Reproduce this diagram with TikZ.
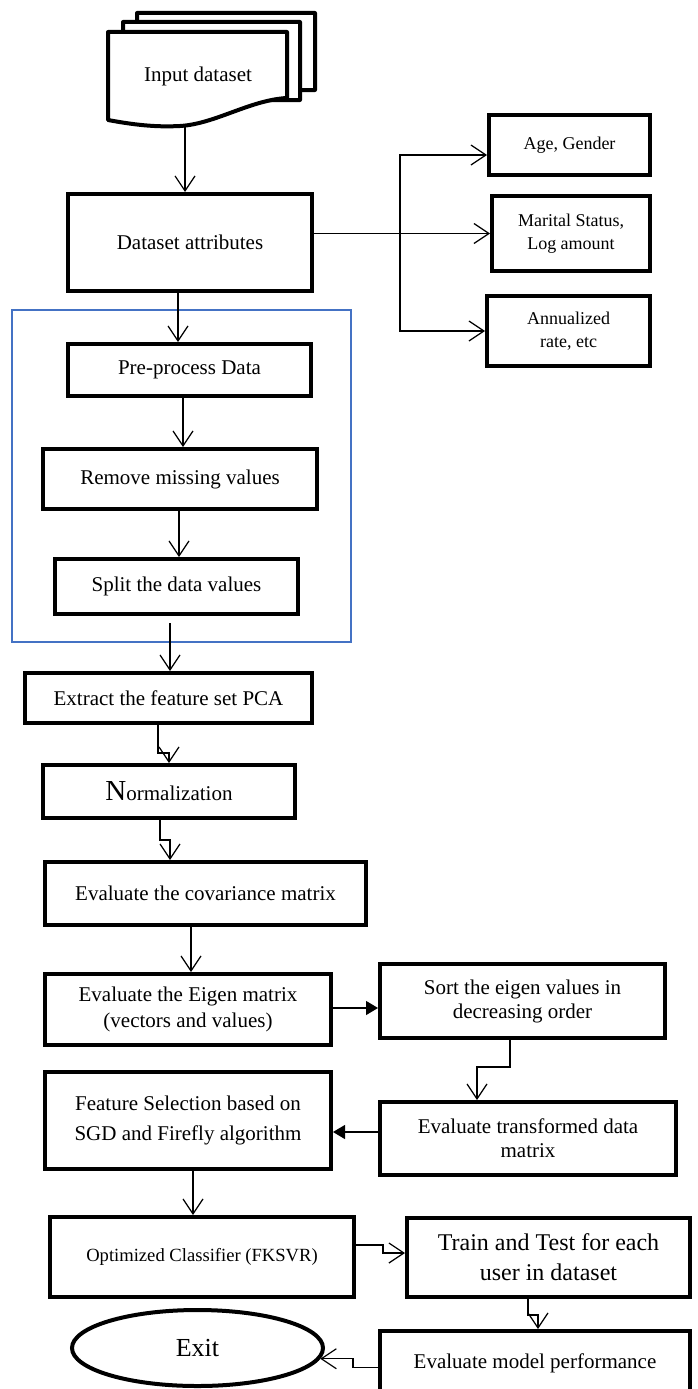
\documentclass[tikz,border=0pt]{standalone}
\usepackage{fontspec}
\setmainfont{Liberation Serif}
\usetikzlibrary{arrows.meta,shapes.geometric}
\definecolor{frameblue}{HTML}{4472C4}
\begin{document}
\begin{tikzpicture}[x=1pt,y=-1pt,
  box/.style={draw, line width=4pt, fill=white, align=center, inner sep=2pt,
    font=\fontsize{21}{26}\selectfont},
  sidebox/.style={box, font=\fontsize{18}{23}\selectfont},
  docline/.style={draw, line width=4pt, fill=white, line join=round},
  conn/.style={line width=1.2pt},
  arr/.style={conn, -{Straight Barb[length=15pt,width=20pt,line width=1.2pt]}},
  farr/.style={conn, -{Triangle[length=12pt,width=14pt]}}
]
\useasboundingbox (0,0) rectangle (698,1389);

% blue frame
\draw[frameblue, line width=1.2pt] (12,310) rectangle (351,642);

% input dataset (multi-document)
\draw[docline] (137,13) -- (315,13) -- (315,90) -- (280,90) .. controls (230,95) and (180,115) .. (137,105) -- cycle;
\draw[docline] (123,22) -- (300,22) -- (300,100) -- (270,100) .. controls (220,105) and (170,125) .. (123,115) -- cycle;
\draw[docline] (108,32) -- (287,32) -- (287,98) .. controls (250,100) and (215,124) .. (180,126) .. controls (160,127) and (140,126) .. (108,120) -- cycle;
\node[font=\fontsize{21}{26}\selectfont] (input) at (198,76) {Input dataset};
\coordinate (docb) at (185,126);

% nodes
\node[box, minimum width=244pt, minimum height=97pt] (attr) at (190,242.5) {Dataset attributes};
\node[sidebox, minimum width=161pt, minimum height=60pt] (age) at (569.5,145) {Age, Gender};
\node[sidebox, minimum width=158pt, minimum height=75pt] (marital) at (571,233.5) {Marital Status,\\Log amount};
\node[sidebox, minimum width=163pt, minimum height=70pt] (annual) at (568.5,331) {Annualized\\rate, etc};

\node[box, minimum width=243pt, minimum height=52pt] (pre) at (189.5,370) {Pre-process Data};
\node[box, minimum width=274pt, minimum height=60pt] (remove) at (180,479) {Remove missing values};
\node[box, minimum width=243pt, minimum height=55pt] (split) at (176.5,586.5) {Split the data values};

\node[box, minimum width=287pt, minimum height=50pt] (extract) at (168.5,698) {Extract the feature set PCA};
\node[box, minimum width=252pt, minimum height=53pt] (norm) at (169,791.5) {{\fontsize{29}{29}\selectfont N}ormalization};
\node[box, minimum width=321pt, minimum height=63pt] (cov) at (205.5,893.5) {Evaluate the covariance matrix};
\node[box, minimum width=286pt, minimum height=71pt] (eigen) at (188,1009.5) {Evaluate the Eigen matrix\\(vectors and values)};
\node[box, minimum width=285pt, minimum height=74pt, font=\fontsize{21}{24}\selectfont] (sort) at (522.5,1001) {Sort the eigen values in\\decreasing order};
\node[box, minimum width=296pt, minimum height=73pt, font=\fontsize{21}{24}\selectfont] (trans) at (528,1138.5) {Evaluate transformed data\\matrix};
\node[box, minimum width=286pt, minimum height=97pt, font=\fontsize{21}{30}\selectfont] (feat) at (188,1120.5) {Feature Selection based on\\SGD and Firefly algorithm};
\node[box, minimum width=304pt, minimum height=80pt, font=\fontsize{18.6}{22}\selectfont] (opt) at (202,1257) {Optimized Classifier (FKSVR)};
\node[box, minimum width=283pt, minimum height=79pt, font=\fontsize{24}{30}\selectfont] (train) at (548.5,1257.5) {Train and Test for each\\user in dataset};
\node[box, minimum width=310pt, minimum height=64pt] (evalm) at (535,1363) {Evaluate model performance};
\node[draw, ellipse, line width=4pt, fill=white, inner sep=0pt, minimum width=251pt, minimum height=76pt, font=\fontsize{26}{30}\selectfont] (exit) at (197.5,1348) {Exit};

% connectors
\draw[arr] (docb) -- (docb |- attr.north);
\coordinate (br) at (400,233.5);
\draw[arr] (attr.east |- marital.west) -- (marital.west);
\draw[arr] (br) |- ([yshift=-10pt]age.west);
\draw[arr] (br) |- (annual.west);

\draw[arr] ([xshift=-12pt]attr.south) -- ([xshift=-12pt]attr.south |- pre.north);
\draw[arr] ([xshift=-6.5pt]pre.south) -- ([xshift=-6.5pt]pre.south |- remove.north);
\draw[arr] ([xshift=-1pt]remove.south) -- ([xshift=-1pt]remove.south |- split.north);
\draw[arr, shorten <=7pt] ([xshift=-6.5pt]split.south) -- ([xshift=-6.5pt]split.south |- extract.north);
\draw[arr] ([xshift=-10.5pt]extract.south) -- ++(0,28) -| (norm.north);
\draw[arr] ([xshift=-9pt]norm.south) -- ++(0,20) -| ([xshift=-35.5pt]cov.north);
\draw[arr] ([xshift=-14.5pt]cov.south) -- ([xshift=-14.5pt]cov.south |- eigen.north);
\draw[farr] ([yshift=1.5pt]eigen.east) -- ([yshift=1.5pt]eigen.east -| sort.west);
\draw[arr] ([xshift=-12.5pt]sort.south) -- ++(0,27) -| ([xshift=-51pt]trans.north);
\draw[farr] ([yshift=6.5pt]trans.west) -- ([yshift=6.5pt]trans.west -| feat.east);
\draw[arr] ([xshift=5pt]feat.south) -- ([xshift=5pt]feat.south |- opt.north);
\draw[arr] ([yshift=12pt]opt.east) -- ++(27,0) |- ([yshift=4.5pt]train.west);
\draw[arr] ([xshift=-20.5pt]train.south) -- ++(0,16) -| ([xshift=3pt]evalm.north);
\draw[arr] ([yshift=-4.5pt]evalm.west) -- ++(-25,0) |- (exit.-5);
\end{tikzpicture}
\end{document}
